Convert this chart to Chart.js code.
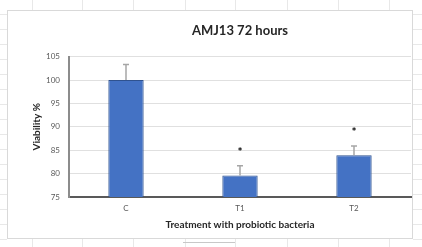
<!DOCTYPE html>
<html>
<head>
<meta charset="utf-8">
<script src="https://cdn.jsdelivr.net/npm/chart.js@4"></script>
<style>
    html, body { margin: 0; padding: 0; background: #fff; }
    #wrap { width: 422px; height: 247px; }
</style>
</head>
<body>
<div id="wrap"><canvas id="chart" width="422" height="247"></canvas></div>
<script>
// Données
const categories = ['C', 'T1', 'T2']
const viability  = [100, 79.6, 83.9]
const errorUp    = [3.3, 2.1, 2.0]
const signif     = ['', '*', '*']
const yTicks     = [75, 80, 85, 90, 95, 100, 105]

const FONT = 'Lato, "Open Sans", sans-serif'

// -- Fond : cadre du graphique + grille du tableur --
const sheetBg = {
    id: 'sheetBg',
    beforeDraw(chart) {
        const ctx = chart.ctx
        ctx.save()
        ctx.fillStyle = '#fff'
        ctx.fillRect(0, 0, chart.width, chart.height)
        ctx.strokeStyle = '#e8e8e8'
        ctx.lineWidth = 1
        const cols = [32, 82, 133, 185, 235, 287, 338, 389]
        cols.forEach(x => {
            ctx.beginPath()
            ctx.moveTo(x + 0.5, 0); ctx.lineTo(x + 0.5, 10)
            ctx.moveTo(x + 0.5, 239); ctx.lineTo(x + 0.5, 247)
            ctx.stroke()
        })
        for (let y = 14; y < 247; y += 15) {
            ctx.beginPath()
            ctx.moveTo(0, y + 0.5); ctx.lineTo(7, y + 0.5)
            ctx.moveTo(413, y + 0.5); ctx.lineTo(422, y + 0.5)
            ctx.stroke()
        }
        ctx.strokeStyle = '#c8c8c8'
        ctx.beginPath()
        ctx.moveTo(183, 242.5); ctx.lineTo(235, 242.5)
        ctx.stroke()
        ctx.strokeStyle = '#d9d9d9'
        ctx.strokeRect(7.5, 10.5, 405, 228)
        ctx.restore()
    }
}

// -- Barres d'erreur + astérisques --
const errBars = {
    id: 'errBars',
    afterDatasetsDraw(chart) {
        const ctx = chart.ctx
        const y = chart.scales.y
        const meta = chart.getDatasetMeta(0)
        ctx.save()
        meta.data.forEach((bar, i) => {
            const top = y.getPixelForValue(viability[i] + errorUp[i])
            ctx.strokeStyle = '#a6a6a6'
            ctx.lineWidth = 1.5
            ctx.beginPath()
            ctx.moveTo(bar.x, bar.y)
            ctx.lineTo(bar.x, top)
            ctx.moveTo(bar.x - 3, top)
            ctx.lineTo(bar.x + 3, top)
            ctx.stroke()
            if (signif[i]) {
                ctx.fillStyle = '#000'
                ctx.font = 'bold 12px ' + FONT
                ctx.textAlign = 'center'
                ctx.textBaseline = 'alphabetic'
                ctx.fillText(signif[i], bar.x, top - 10)
            }
        })
        ctx.restore()
    }
}

new Chart(document.getElementById('chart'), {
    type: 'bar',
    data: {
        labels: categories,
        datasets: [{
            data: viability,
            backgroundColor: '#4472c4',
            borderColor: '#2f528f',
            borderWidth: 1,
            barPercentage: 0.31,
            categoryPercentage: 1
        }]
    },
    options: {
        responsive: false,
        animation: false,
        devicePixelRatio: 1,
        layout: { padding: { left: 0, top: 0, right: 11, bottom: 0 } },
        plugins: {
            legend: { display: false },
            tooltip: { enabled: false },
            title: {
                display: true,
                text: 'AMJ13 72 hours',
                fullSize: false,
                color: '#262626',
                font: { family: FONT, size: 13, weight: 'bold' },
                padding: { top: 23, bottom: 18 }
            }
        },
        scales: {
            x: {
                grid: { display: false, drawTicks: false },
                border: { display: true, color: '#595959', width: 2 },
                ticks: { color: '#595959', padding: 7, font: { family: FONT, size: 8 } },
                title: {
                    display: true,
                    text: 'Treatment with probiotic bacteria',
                    color: '#262626',
                    font: { family: FONT, size: 10, weight: 'bold' },
                    padding: { top: 0, bottom: 16 }
                },
                afterFit: s => { s.height = 50 }
            },
            y: {
                min: 75,
                max: 105,
                afterBuildTicks: s => { s.ticks = yTicks.map(v => ({ value: v })) },
                grid: { color: '#e0e0e0', drawTicks: false },
                border: { display: true, color: '#8c8c8c', width: 2 },
                ticks: { color: '#595959', padding: 9, font: { family: FONT, size: 8 } },
                title: {
                    display: true,
                    text: 'Viability %',
                    color: '#262626',
                    font: { family: FONT, size: 10, weight: 'bold' },
                    padding: { top: 31, bottom: 0 }
                },
                afterFit: s => { s.width = 69 }
            }
        }
    },
    plugins: [sheetBg, errBars]
})
</script>
</body>
</html>
